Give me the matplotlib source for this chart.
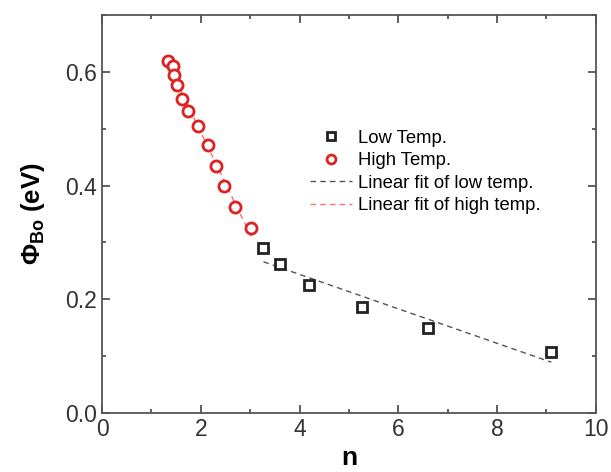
import numpy as np
import matplotlib
matplotlib.use("Agg")
import matplotlib.pyplot as plt
from matplotlib.ticker import MultipleLocator

plt.rcParams['font.family'] = ['Liberation Sans', 'DejaVu Sans']
plt.rcParams['mathtext.fontset'] = 'custom'
plt.rcParams['mathtext.rm'] = 'Liberation Sans'
plt.rcParams['mathtext.bf'] = 'Liberation Sans:bold'

# Data
low_n = [3.27, 3.60, 4.20, 5.26, 6.60, 9.10]
low_phi = [0.291, 0.262, 0.225, 0.186, 0.149, 0.107]
high_n = [1.345, 1.44, 1.46, 1.515, 1.62, 1.75, 1.94, 2.14, 2.31, 2.47, 2.70, 3.02]
high_phi = [0.620, 0.610, 0.594, 0.577, 0.552, 0.532, 0.505, 0.471, 0.435, 0.400, 0.363, 0.325]

fig = plt.figure(figsize=(6.11, 4.72), dpi=100)
ax = fig.add_axes([0.167, 0.125, 0.808, 0.843])

# Linear fits
pl = np.polyfit(low_n, low_phi, 1)
xl = np.array([min(low_n), max(low_n)])
ax.plot(xl, np.polyval(pl, xl), ls=(0, (4, 3)), color='#555555', lw=1.0,
        label='Linear fit of low temp.', zorder=2)
ph = np.polyfit(high_n, high_phi, 1)
xh = np.array([min(high_n), max(high_n)])
ax.plot(xh, np.polyval(ph, xh), ls=(0, (4, 3)), color='#ff7070', lw=1.0,
        label='Linear fit of high temp.', zorder=2)

ax.plot(low_n, low_phi, ls='none', marker='s', ms=7, mfc='white', mec='#222222',
        mew=2.0, label='Low Temp.', zorder=3)
ax.plot(high_n, high_phi, ls='none', marker='o', ms=8, mfc='white', mec='#dd2222',
        mew=2.0, label='High Temp.', zorder=3)

ax.set_xlim(0, 10)
ax.set_ylim(0, 0.7)
ax.xaxis.set_major_locator(MultipleLocator(2))
ax.xaxis.set_minor_locator(MultipleLocator(1))
ax.yaxis.set_major_locator(MultipleLocator(0.2))
ax.yaxis.set_minor_locator(MultipleLocator(0.1))
ax.yaxis.set_major_formatter(matplotlib.ticker.FormatStrFormatter('%.1f'))
ax.tick_params(which='both', direction='in', top=True, right=True,
               color='#444444', width=1.2, labelsize=16.5, labelcolor='#333333')
ax.tick_params(which='major', length=6)
ax.tick_params(which='minor', length=3)
for s in ax.spines.values():
    s.set_color('#555555')
    s.set_linewidth(1.3)

ax.set_xlabel('n', fontsize=19, fontweight='bold', labelpad=4)
ax.set_ylabel(r'$\mathbf{\Phi_{Bo}}$ (eV)', fontsize=18.5, fontweight='bold', labelpad=13)

h, l = ax.get_legend_handles_labels()
order = [2, 3, 0, 1]
ax.legend([h[i] for i in order], [l[i] for i in order], loc='upper left',
          bbox_to_anchor=(0.421, 0.712), frameon=False, fontsize=13.3,
          handlelength=2.3, handletextpad=0.3, labelspacing=0.3,
          borderpad=0, borderaxespad=0, markerscale=0.8)

fig.savefig('out.png', dpi=100)
